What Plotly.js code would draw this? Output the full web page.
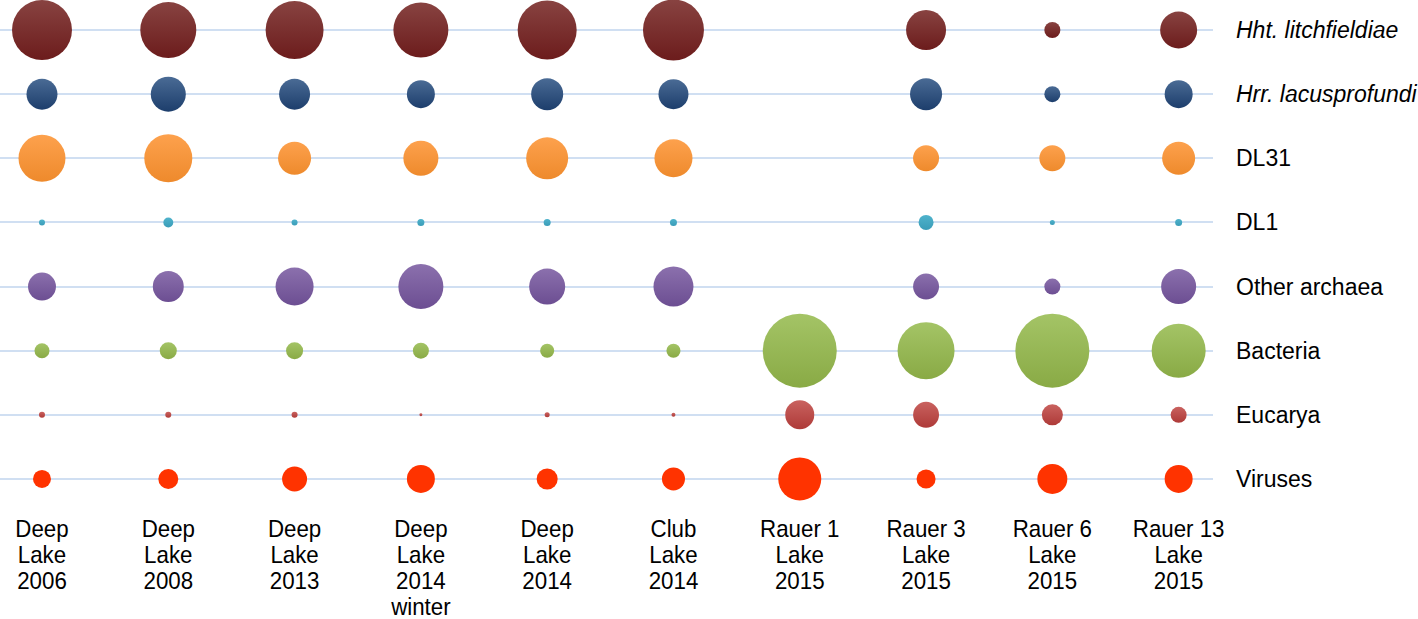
<!DOCTYPE html>
<html>
<head>
<meta charset="utf-8">
<script src="https://cdn.plot.ly/plotly-3.0.1.min.js"></script>
<style>
  body { margin: 0; background: #fff; }
  #chart { width: 1418px; height: 619px; }
</style>
</head>
<body>
<div id="chart"></div>
<script>
// sites (columns)
const sites = [
    "Deep<br>Lake<br>2006", "Deep<br>Lake<br>2008", "Deep<br>Lake<br>2013",
    "Deep<br>Lake<br>2014<br>winter", "Deep<br>Lake<br>2014", "Club<br>Lake<br>2014",
    "Rauer 1<br>Lake<br>2015", "Rauer 3<br>Lake<br>2015", "Rauer 6<br>Lake<br>2015",
    "Rauer 13<br>Lake<br>2015"
];

// groups (rows, top to bottom)
const groups = [
    "<i>Hht. litchfieldiae</i>", "<i>Hrr. lacusprofundi</i>", "DL31", "DL1",
    "Other archaea", "Bacteria", "Eucarya", "Viruses"
];

// relative abundance (bubble area)
const hht      = [65.7, 57.3, 61.4, 55.2, 63.6, 67.9, null, 29.2, 4.7, 25.0];
const hrr      = [17.5, 22.4, 17.5, 14.3, 18.7, 16.4, null, 18.7, 4.7, 14.3];
const dl31     = [40.3, 42.1, 19.9, 22.4, 32.2, 26.4, null, 12.3, 12.3, 19.9];
const dl1      = [0.66, 1.8, 0.66, 0.9, 0.9, 0.9, null, 4.1, 0.46, 0.9];
const otherArc = [14.3, 17.5, 26.4, 37.0, 23.7, 29.2, null, 12.3, 4.7, 22.4];
const bacteria = [4.1, 5.3, 5.3, 4.7, 3.6, 3.6, 100, 59.3, 100, 53.3];
const eucarya  = [0.66, 0.66, 0.66, 0.16, 0.46, 0.29, 15.4, 12.3, 8.1, 4.7];
const viruses  = [5.9, 7.3, 11.4, 14.3, 8.1, 9.7, 33.8, 6.6, 16.4, 14.3];

const series = [hht, hrr, dl31, dl1, otherArc, bacteria, eucarya, viruses];

// top colour / bottom colour of each bubble
const topColors = ["#884341", "#4a6b95", "#fda14d", "#4fb3cc", "#8b70ad", "#a4c466", "#c9625f", "#ff3300"];
const botColors = ["#6c1c1c", "#1d3e6c", "#ee8a2c", "#3a9cb8", "#6c4e92", "#89aa45", "#ae3a38", "#ff3300"];

const xIdx = sites.map((s, i) => i);

const data = series.map((vals, r) => ({
    type: 'scatter',
    mode: 'markers',
    x: xIdx,
    y: xIdx.map(() => r),
    marker: {
        size: vals.map(v => v === null ? 0 : v),
        sizemode: 'area',
        sizeref: 2 * 100 / (74 * 74),
        color: topColors[r],
        gradient: { type: 'vertical', color: botColors[r] },
        line: { width: 0 },
        opacity: 1
    },
    showlegend: false,
    cliponaxis: false
}));

const layout = {
    width: 1418,
    height: 619,
    margin: { l: 0, r: 205, t: 0, b: 119 },
    paper_bgcolor: '#ffffff',
    plot_bgcolor: '#ffffff',
    xaxis: {
        range: [-0.3325, 9.272],
        tickvals: xIdx,
        ticktext: sites,
        showgrid: false,
        zeroline: false,
        showline: false,
        ticks: '',
        ticklabelstandoff: 12,
        tickfont: { family: '"Liberation Sans", Arial, sans-serif', size: 24, color: '#000' }
    },
    yaxis: {
        range: [7.328, -0.468],
        side: 'right',
        tickvals: groups.map((g, i) => i),
        ticktext: groups,
        showgrid: true,
        gridcolor: '#d0dff2',
        gridwidth: 2,
        zeroline: false,
        showline: false,
        ticks: '',
        ticklabelstandoff: 22,
        tickfont: { family: '"Liberation Sans", Arial, sans-serif', size: 23, color: '#000' }
    }
};

Plotly.newPlot('chart', data, layout, { displayModeBar: false, staticPlot: true }).then(() => {
    // site labels: a bit narrower and with tighter lines, like the original
    document.querySelectorAll('#chart .xtick text').forEach(t => {
        t.querySelectorAll('tspan.line').forEach(ts => {
            const dy = parseFloat(ts.getAttribute('dy'));
            if (dy) ts.setAttribute('dy', (dy * 1.08 / 1.3) + 'em');
        });
        const x = parseFloat(t.getAttribute('x')) || 0;
        const tr = t.getAttribute('transform') || '';
        t.setAttribute('transform', `${tr} translate(${x},0) scale(0.93,1) translate(${-x},0)`);
    });
});
</script>
</body>
</html>
